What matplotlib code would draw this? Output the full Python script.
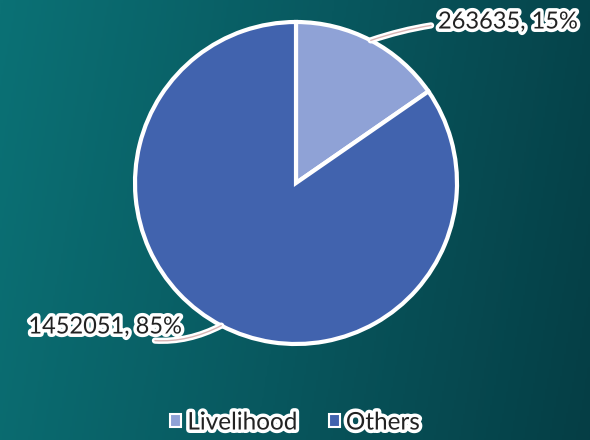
import numpy as np
import matplotlib.pyplot as plt
import matplotlib.patheffects as pe
from matplotlib.colors import LinearSegmentedColormap

# data
categories = ["Livelihood", "Others"]
values = [263635, 1452051]
colors = ["#8fa2d6", "#4163ae"]

W, H = 590, 440
fig = plt.figure(figsize=(W / 100, H / 100), dpi=100)
ax = fig.add_axes([0, 0, 1, 1])

# teal background gradient, lighter on the left
cmap = LinearSegmentedColormap.from_list("bg", ["#0b7175", "#08585f", "#053e45"])
gx = np.linspace(0, 1, 300)
gy = np.linspace(0, 1, 200)
GX, GY = np.meshgrid(gx, gy)
grad = np.clip(GX * 0.88 + GY * 0.12, 0, 1)
ax.imshow(grad, cmap=cmap, extent=(0, W, 0, H), origin="upper", zorder=0, aspect="auto")

cx, cy, r = 296, H - 183, 161
wedges, _ = ax.pie(values, colors=colors, startangle=90, counterclock=False,
                   center=(cx, cy), radius=r, frame=True,
                   wedgeprops=dict(edgecolor="white", linewidth=3))
ax.set_xlim(0, W)
ax.set_ylim(0, H)
ax.set_aspect("equal")
ax.axis("off")

total = sum(values)
halo = [pe.withStroke(linewidth=5, foreground="white")]
line_fx = [pe.Stroke(linewidth=4.5, foreground="white"), pe.Normal()]
label_pos = [(438, H - 22, "left", "arc3,rad=0.1"), (182, H - 327, "right", "arc3,rad=0.25")]

for w, v, (tx, ty, ha, conn) in zip(wedges, values, label_pos):
    ang = np.deg2rad((w.theta1 + w.theta2) / 2)
    px, py = cx + r * np.cos(ang), cy + r * np.sin(ang)
    ax.annotate(f"{v}, {v / total:.0%}", xy=(px, py), xytext=(tx, ty),
                ha=ha, va="center", fontsize=17, family="Lato", color="#222222",
                path_effects=halo,
                arrowprops=dict(arrowstyle="-", color="#d8b4b4", lw=1,
                                shrinkA=3, shrinkB=0, connectionstyle=conn,
                                path_effects=line_fx))

leg = ax.legend(wedges, categories, loc="lower center", bbox_to_anchor=(0.5, -0.035),
                ncol=2, frameon=False, handlelength=0.45, handleheight=0.45,
                handletextpad=0.25, columnspacing=1.3,
                prop=dict(family="Lato", size=17.5))
for t in leg.get_texts():
    t.set_color("#222222")
    t.set_path_effects(halo)
for h in leg.legend_handles:
    h.set_edgecolor("white")
    h.set_linewidth(1.5)

fig.savefig("out.png", dpi=100)
